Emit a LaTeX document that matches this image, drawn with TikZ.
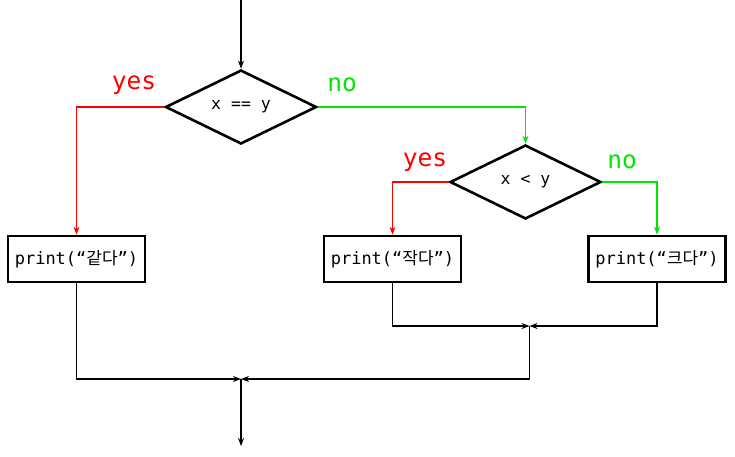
\documentclass[tikz,border=0pt]{standalone}
\usepackage{fontspec}
\setmonofont{DejaVu Sans Mono}
\newfontfamily\kr{Noto Sans CJK KR}
\usetikzlibrary{shapes.geometric,arrows.meta}
\definecolor{yescol}{RGB}{255,0,0}
\definecolor{nocol}{RGB}{0,230,0}
\tikzset{
  cond/.style={diamond,draw,line width=2.6pt,minimum width=151pt,minimum height=74pt,inner sep=0pt,font=\ttfamily\fontsize{16.5}{19}\selectfont},
  act/.style={rectangle,draw,line width=2.6pt,minimum width=137pt,minimum height=46pt,inner sep=0pt,font=\ttfamily\fontsize{17}{20}\selectfont},
  conn/.style={line width=1.5pt,-{Stealth[length=8pt,width=6pt]}},
  lbl/.style={font=\ttfamily\fontsize{24.5}{28}\selectfont},
}
\begin{document}
\begin{tikzpicture}[x=1pt,y=-1pt]
\useasboundingbox (0,0) rectangle (735,456);
\node[cond] (d1) at (241,107) {x == y};
\node[cond] (d2) at (525.5,182) {x < y};
\node[act] (b1) at (76.5,259) {print(“{\kr 같다}”)};
\node[act] (b2) at (392.5,259) {print(“{\kr 작다}”)};
\node[act] (b3) at (657,259) {print(“{\kr 크다}”)};
\node[lbl,text=yescol] (y1) at (134,85) {yes};
\node[lbl,text=nocol] (n1) at (342,85) {no};
\node[lbl,text=yescol] (y2) at (425,162) {yes};
\node[lbl,text=nocol] (n2) at (622,162) {no};
\coordinate (top) at (241,0);
\coordinate (m1) at (529.5,326);
\coordinate (m2) at (241,379);
\coordinate (bot) at (241,446);
\draw[conn] (top) -- (d1.north);
\draw[conn,yescol] (d1.west) -| (b1.north);
\draw[conn,nocol] (d1.east) -| (d2.north);
\draw[conn,yescol] (d2.west) -| (b2.north);
\draw[conn,nocol] (d2.east) -| (b3.north);
\draw[conn] (b2.south) |- (m1);
\draw[conn] (b3.south) |- (m1);
\draw[conn] (m1) |- (m2);
\draw[conn] (b1.south) |- (m2);
\draw[conn] (m2) -- (bot);
\end{tikzpicture}
\end{document}
